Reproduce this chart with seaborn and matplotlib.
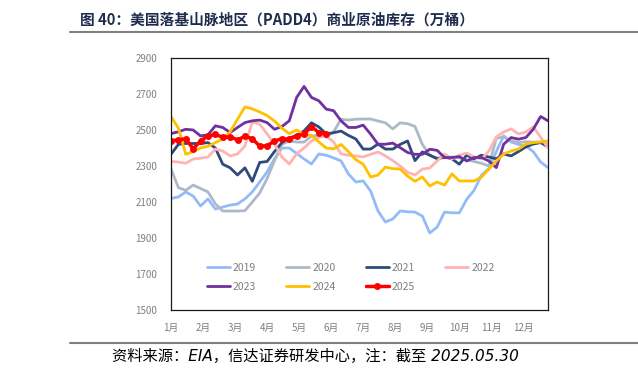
import matplotlib
matplotlib.use("Agg")
import matplotlib.pyplot as plt
from matplotlib.lines import Line2D
import numpy as np
import pandas as pd
import seaborn as sns

# weekly crude stocks, PADD4 (10k barrels), week index 0..51
y2019 = [2120, 2128, 2156, 2133, 2078, 2117, 2061, 2072, 2083, 2089, 2117, 2156, 2211,
         2267, 2340, 2400, 2400, 2370, 2339, 2311, 2367, 2360, 2345, 2328, 2256, 2211,
         2217, 2161, 2050, 1989, 2006, 2050, 2046, 2044, 2022, 1928, 1961, 2044, 2040,
         2040, 2115, 2165, 2250, 2285, 2380, 2467, 2433, 2420, 2410, 2380, 2322, 2291]
y2020 = [2285, 2180, 2165, 2194, 2175, 2156, 2090, 2050, 2050, 2050, 2052, 2100, 2150,
         2230, 2330, 2420, 2440, 2433, 2433, 2467, 2470, 2461, 2490, 2560, 2555, 2560,
         2561, 2561, 2550, 2540, 2506, 2540, 2535, 2520, 2420, 2360, 2345, 2345, 2350,
         2345, 2335, 2325, 2315, 2300, 2455, 2461, 2440, 2430, 2435, 2433, 2433, 2422]
y2021 = [2365, 2420, 2425, 2425, 2425, 2430, 2400, 2310, 2290, 2250, 2290, 2215, 2320,
         2325, 2380, 2430, 2455, 2470, 2495, 2540, 2517, 2478, 2485, 2494, 2470, 2450,
         2394, 2394, 2422, 2394, 2394, 2420, 2439, 2330, 2378, 2360, 2340, 2350, 2340,
         2310, 2360, 2340, 2360, 2350, 2340, 2367, 2356, 2380, 2406, 2422, 2430, 2406]
y2022 = [2325, 2322, 2315, 2339, 2343, 2350, 2394, 2383, 2356, 2367, 2411, 2544, 2533,
         2478, 2422, 2350, 2311, 2367, 2400, 2439, 2460, 2467, 2433, 2367, 2360, 2356,
         2350, 2365, 2378, 2356, 2330, 2300, 2265, 2250, 2283, 2289, 2328, 2367, 2339,
         2360, 2372, 2350, 2339, 2383, 2461, 2489, 2506, 2478, 2489, 2517, 2460, 2400]
y2023 = [2480, 2490, 2504, 2500, 2467, 2473, 2523, 2514, 2486, 2514, 2541, 2551, 2555,
         2541, 2504, 2519, 2551, 2681, 2742, 2681, 2662, 2616, 2607, 2551, 2514, 2514,
         2527, 2477, 2421, 2421, 2427, 2402, 2375, 2365, 2365, 2393, 2387, 2347, 2347,
         2352, 2328, 2347, 2347, 2328, 2291, 2421, 2458, 2449, 2458, 2504, 2575, 2551]
y2024 = [2575, 2510, 2365, 2380, 2400, 2410, 2430, 2450, 2490, 2560, 2628, 2617, 2600,
         2580, 2550, 2510, 2480, 2500, 2475, 2470, 2433, 2400, 2395, 2420, 2380, 2335,
         2310, 2239, 2250, 2294, 2285, 2283, 2244, 2215, 2239, 2189, 2211, 2194, 2256,
         2217, 2217, 2217, 2239, 2283, 2328, 2367, 2383, 2394, 2422, 2430, 2433, 2440]
y2025 = [2440, 2445, 2452, 2395, 2440, 2467, 2475, 2460, 2462, 2445, 2465, 2452, 2410,
         2413, 2438, 2452, 2448, 2467, 2477, 2519, 2486, 2480]

years = ["2019", "2020", "2021", "2022", "2023", "2024", "2025"]
series = [y2019, y2020, y2021, y2022, y2023, y2024, y2025]
colors = ["#93BBFA", "#ADB9CA", "#2F4B7C", "#FFB3B3", "#7030A0", "#FFC000", "#FF0000"]
months = ["1月", "2月", "3月", "4月", "5月", "6月", "7月", "8月", "9月", "10月", "11月", "12月"]

rows = []
for yr, vals in zip(years, series):
    for i, v in enumerate(vals):
        rows.append({"week": i, "year": yr, "value": v})
df = pd.DataFrame(rows)

sns.set_style("white")
plt.rcParams["font.family"] = ["Noto Sans CJK SC", "DejaVu Sans"]

fig = plt.figure(figsize=(6.38, 3.74), dpi=100)
ax = fig.add_axes([0.268, 0.171, 0.591, 0.674])

for yr, c in zip(years, colors):
    sub = df[df["year"] == yr]
    if yr == "2025":
        sns.lineplot(data=sub, x="week", y="value", ax=ax, color=c, linewidth=2.5,
                     marker="o", markersize=5, markeredgewidth=0, label=yr)
    else:
        sns.lineplot(data=sub, x="week", y="value", ax=ax, color=c, linewidth=2.0,
                     label=yr)

ax.set_xlim(0, 51)
ax.set_ylim(1500, 2900)
ax.set_yticks(range(1500, 2901, 200))
ax.set_xticks([i * 52 / 12 for i in range(12)])
ax.set_xticklabels(months)
ax.set_xlabel("")
ax.set_ylabel("")
ax.tick_params(axis="both", length=0, labelsize=7, labelcolor="#7F7F7F")
ax.tick_params(axis="x", pad=9)
ax.tick_params(axis="y", pad=10)
for s in ax.spines.values():
    s.set_color("#1A1A1A")
    s.set_linewidth(0.9)

# row-major legend order (matplotlib fills columns first)
handles, labels = ax.get_legend_handles_labels()
order = [0, 4, 1, 5, 2, 6, 3]
ax.legend([handles[i] for i in order], [labels[i] for i in order],
          loc="upper left", bbox_to_anchor=(0.07, 0.225), ncol=4, frameon=False,
          fontsize=7.5, handlelength=2.2, handletextpad=0.3, columnspacing=2.9,
          labelspacing=0.9, labelcolor="#7F7F7F")

fig.text(0.125, 0.948, "图 40：美国落基山脉地区（PADD4）商业原油库存（万桶）",
         fontsize=10.6, fontweight="bold", color="#1F2D4D", va="center", ha="left")
fig.add_artist(Line2D([0.11, 1.0], [0.915, 0.915], color="#808080", linewidth=1.5))
fig.add_artist(Line2D([0.11, 1.0], [0.083, 0.083], color="#808080", linewidth=1.5))
fig.text(0.176, 0.048, "资料来源：EIA，信达证券研发中心，注：截至 2025.05.30",
         fontsize=11, style="italic", family=["DejaVu Sans", "Noto Sans CJK SC"],
         color="#000000", va="center", ha="left")

fig.savefig("out.png", dpi=100)
